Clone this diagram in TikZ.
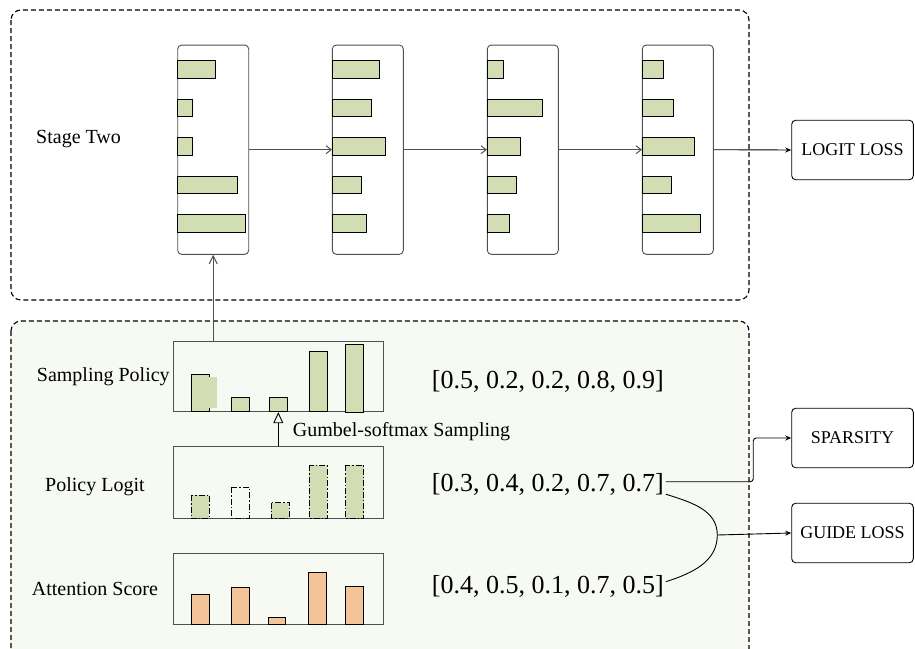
\documentclass[tikz,border=0pt]{standalone}
\usepackage{fontspec}
\setmainfont{Liberation Serif}
\newfontfamily\tnr{Liberation Serif}
\usetikzlibrary{arrows.meta,calc}
\definecolor{barg}{HTML}{D3DDB4}
\definecolor{baro}{HTML}{F2C498}
\definecolor{panel}{HTML}{F7FAF3}
\definecolor{edge}{HTML}{505050}
\tikzset{
  stagebox/.style={draw=black, line width=1.1pt, dash pattern=on 5pt off 3pt, rounded corners=10pt},
  colbox/.style={draw=edge, line width=0.9pt, rounded corners=4pt, minimum width=71pt, minimum height=209.3pt, inner sep=0pt, fill=white},
  chartbox/.style={draw=edge, line width=0.9pt, minimum width=210pt, inner sep=0pt},
  lossbox/.style={draw=black, line width=0.9pt, rounded corners=4pt, minimum width=121.6pt, minimum height=59.5pt, inner sep=0pt, font=\tnr\fontsize{18}{22}\selectfont},
  gbar/.style={draw=black, line width=0.9pt, fill=barg},
  gbardash/.style={draw=black, line width=0.9pt, dash pattern=on 6pt off 2pt on 1.5pt off 2pt},
  obar/.style={draw=black, line width=0.9pt, fill=baro},
  lbl/.style={anchor=base west, inner sep=0pt, font=\tnr\fontsize{20}{24}\selectfont},
  arr/.style={anchor=base west, inner sep=0pt, font=\tnr\fontsize{26}{30}\selectfont},
  flow/.style={draw=edge, line width=1pt, -{Straight Barb[length=5pt,width=8pt]}},
  lossarrow/.style={draw=black, line width=0.9pt, -{Stealth[length=6pt,width=5pt]}},
}
\begin{document}
\begin{tikzpicture}[x=1pt,y=-1pt]
\useasboundingbox (0,0) rectangle (915,648);
\clip (0,0) rectangle (915,648);

% stage boxes
\draw[stagebox] (11,10) rectangle (749,300);
\draw[stagebox, fill=panel] (11,321) rectangle (749,670);

% stage two columns
\node[colbox] (c1) at (213.2,149.7) {};
\node[colbox] (c2) at (367.8,149.7) {};
\node[colbox] (c3) at (522.8,149.7) {};
\node[colbox] (c4) at (677.8,149.7) {};

\foreach \w [count=\i] in {37.7,14.7,14.7,60,67.7}
  \draw[gbar] (177.7,{69.5+38.45*(\i-1)-8.8}) rectangle ++(\w,17.6);
\foreach \w [count=\i] in {46.7,39,52.7,29.4,34.4}
  \draw[gbar] (332.3,{69.5+38.45*(\i-1)-8.8}) rectangle ++(\w,17.6);
\foreach \w [count=\i] in {15.7,55.4,33,29.4,21.7}
  \draw[gbar] (487.3,{69.5+38.45*(\i-1)-8.8}) rectangle ++(\w,17.6);
\foreach \w [count=\i] in {21.4,31,52.4,29,58.4}
  \draw[gbar] (642.3,{69.5+38.45*(\i-1)-8.8}) rectangle ++(\w,17.6);

\node[lbl] (stwo) at (36,143) {Stage Two};

\node[lossbox] (logit) at (852.5,150) {LOGIT LOSS};
\node[lossbox] (spar) at (852.5,438) {SPARSITY};
\node[lossbox] (guide) at (852.5,533) {GUIDE LOSS};

\draw[flow] (c1.east) -- (c2.west);
\draw[flow] (c2.east) -- (c3.west);
\draw[flow] (c3.east) -- (c4.west);
\draw[lossarrow] (c4.east) -- (logit.west);

% lower charts
\node[chartbox, minimum height=70pt] (sp) at (278.3,376.7) {};
\node[chartbox, minimum height=71.6pt] (pl) at (278.3,482.5) {};
\node[chartbox, minimum height=70.6pt] (at) at (278.3,589) {};

% sampling policy bars
\draw[gbar] (191,374) rectangle (209,411.7);
\fill[barg] (209,376.7) rectangle (216.7,407.7);
\draw[gbar] (231,397) rectangle (249,411.7);
\draw[gbar] (269.3,397) rectangle (287.3,411.7);
\draw[gbar] (309.3,351.7) rectangle (327.3,411.7);
\draw[gbar] (345.7,344.7) rectangle (363.7,412.7);

% policy logit bars
\draw[gbardash, fill=barg] (191,495) rectangle (209,518.3);
\draw[gbardash] (231,487.3) rectangle (249,518.3);
\draw[gbardash, fill=barg] (271.3,502.7) rectangle (289.3,518.3);
\draw[gbardash, fill=barg] (309.3,465) rectangle (327.3,518.3);
\draw[gbardash, fill=barg] (345.7,465) rectangle (363.7,518.3);

% attention bars
\draw[obar] (191,594) rectangle (209,624.3);
\draw[obar] (231,587.3) rectangle (249,624.3);
\draw[obar] (268,617.3) rectangle (285.7,624.3);
\draw[obar] (308.7,572) rectangle (326.7,624.3);
\draw[obar] (345.7,586.7) rectangle (363.7,624.3);

% labels
\node[lbl] (lsp) at (36.7,381.7) {Sampling Policy};
\node[lbl] (lpl) at (45,491.7) {Policy Logit};
\node[lbl] (lat) at (31.7,595) {Attention Score};
\node[lbl] (gum) at (292.7,436) {Gumbel-softmax Sampling};

\node[arr] (a1) at (431.7,388) {[0.5, 0.2, 0.2, 0.8, 0.9]};
\node[arr] (a2) at (431.7,491.7) {[0.3, 0.4, 0.2, 0.7, 0.7]};
\node[arr] (a3) at (431.7,593.3) {[0.4, 0.5, 0.1, 0.7, 0.5]};

% arrows in lower stage
\draw[draw=edge, line width=1pt, -{Straight Barb[length=8pt,width=8pt]}] (sp.north -| c1.south) -- (c1.south);
\draw[draw=black, line width=0.9pt, -{Triangle[open,length=11pt,width=10pt]}] (pl.north) -- (sp.south);

% sparsity
\coordinate (s2) at ([xshift=2pt,yshift=10pt]a2.base east);
\draw[lossarrow, rounded corners=3pt] (s2) -| ([xshift=-38pt]spar.west) -- (spar.west);

% guide loss
\coordinate (g1) at ([xshift=2pt,yshift=-2.5pt]a2.base east);
\coordinate (g3) at ([xshift=2pt,yshift=11.6pt]a3.base east);
\coordinate (gm) at (717.3,535);
\draw[black, line width=0.9pt] (g1) to[out=-18,in=90] (gm) to[out=-90,in=18] (g3);
\draw[lossarrow] (gm) -- (guide.west);
\end{tikzpicture}
\end{document}
